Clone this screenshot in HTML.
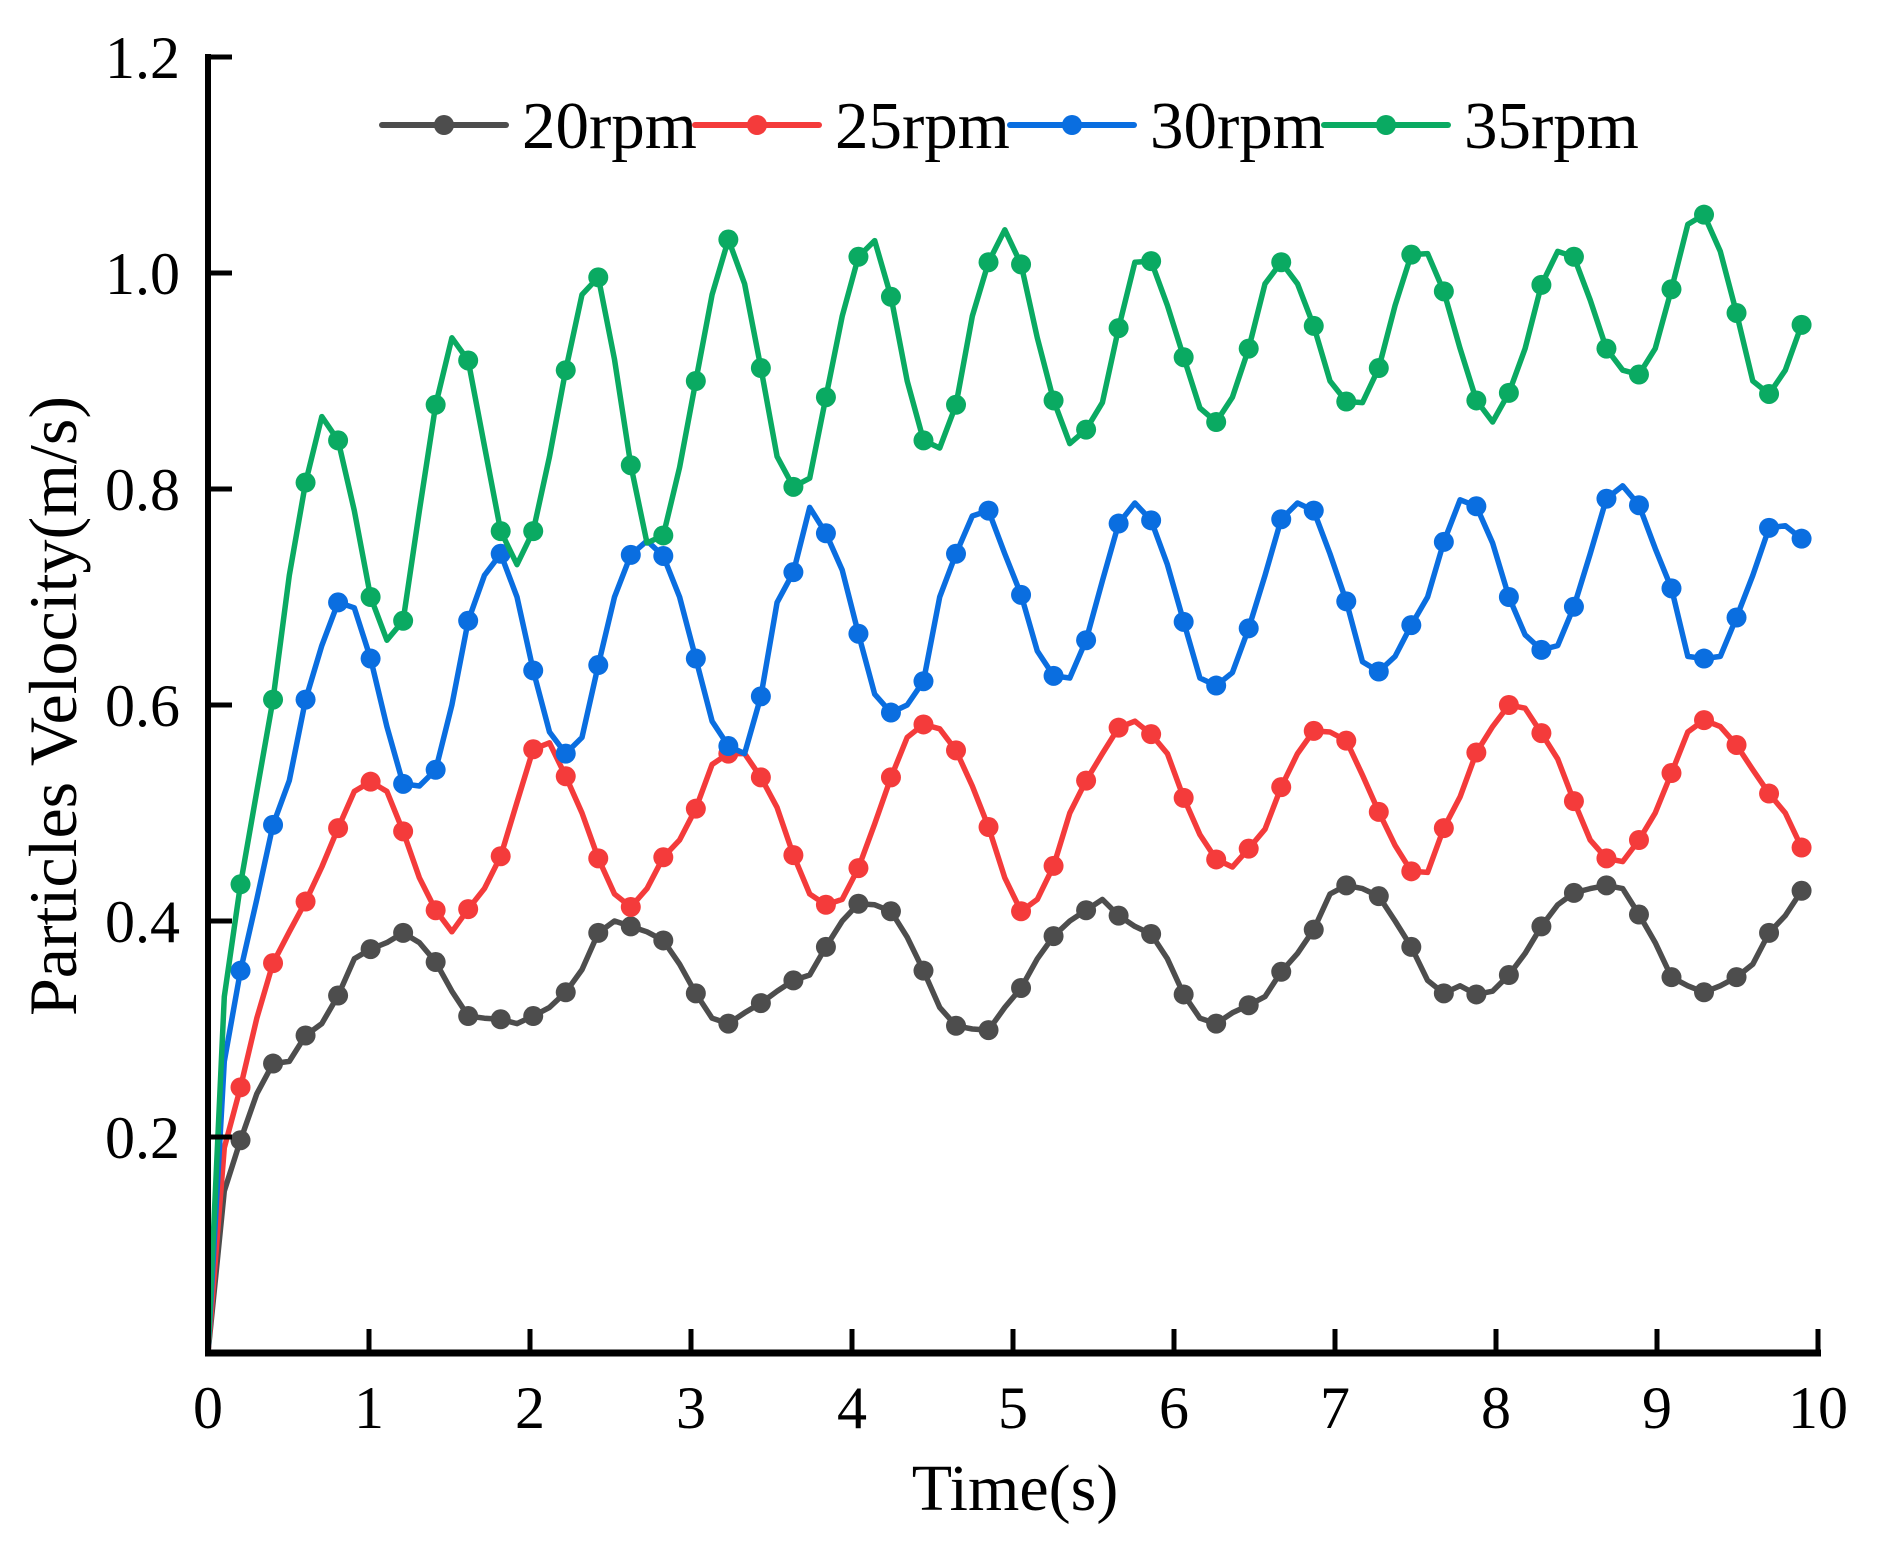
<!DOCTYPE html>
<html><head><meta charset="utf-8">
<style>
html,body{margin:0;padding:0;background:#fff;}
svg{display:block;font-family:"Liberation Serif",serif;}
</style></head>
<body>
<svg id="chart" width="1877" height="1550" viewBox="0 0 1877 1550" xmlns="http://www.w3.org/2000/svg">
<g id="plot"></g>
<g id="axes"></g>
<g id="legend"></g>
</svg>
<script>
const xTicks = [0,1,2,3,4,5,6,7,8,9,10];
const yTicks = [0.2,0.4,0.6,0.8,1.0,1.2];
const yTickLabels = ["0.2","0.4","0.6","0.8","1.0","1.2"];
const seriesNames = ["20rpm","25rpm","30rpm","35rpm"];
const dt = 0.101;
const rpm20 = [0,0.15,0.197,0.24,0.268,0.27,0.294,0.305,0.331,0.365,0.374,0.38,0.389,0.38,0.362,0.335,0.312,0.31,0.309,0.305,0.312,0.32,0.334,0.355,0.389,0.40,0.395,0.39,0.382,0.36,0.333,0.31,0.305,0.315,0.324,0.335,0.345,0.35,0.376,0.40,0.416,0.415,0.409,0.385,0.354,0.32,0.303,0.30,0.299,0.32,0.338,0.365,0.386,0.40,0.410,0.42,0.405,0.395,0.388,0.365,0.332,0.31,0.305,0.315,0.322,0.33,0.353,0.37,0.392,0.425,0.433,0.43,0.423,0.40,0.376,0.345,0.333,0.34,0.332,0.335,0.350,0.37,0.395,0.415,0.426,0.43,0.433,0.43,0.406,0.38,0.348,0.34,0.334,0.34,0.348,0.36,0.389,0.405,0.428];
const rpm25 = [0,0.19,0.246,0.31,0.361,0.39,0.418,0.45,0.486,0.52,0.529,0.52,0.483,0.44,0.410,0.39,0.411,0.43,0.460,0.51,0.559,0.565,0.534,0.50,0.458,0.425,0.413,0.43,0.459,0.475,0.504,0.545,0.555,0.555,0.533,0.505,0.461,0.425,0.415,0.42,0.449,0.49,0.533,0.57,0.582,0.578,0.558,0.525,0.487,0.44,0.409,0.42,0.451,0.50,0.530,0.555,0.579,0.585,0.573,0.555,0.514,0.48,0.457,0.45,0.467,0.485,0.524,0.555,0.576,0.575,0.567,0.535,0.501,0.47,0.446,0.445,0.486,0.515,0.556,0.58,0.600,0.597,0.574,0.55,0.511,0.475,0.458,0.455,0.475,0.50,0.537,0.575,0.586,0.58,0.563,0.54,0.518,0.50,0.468];
const rpm30 = [0,0.27,0.354,0.42,0.489,0.53,0.605,0.655,0.695,0.69,0.643,0.58,0.527,0.525,0.540,0.60,0.678,0.72,0.740,0.70,0.632,0.575,0.555,0.57,0.637,0.70,0.739,0.752,0.738,0.70,0.643,0.585,0.562,0.555,0.608,0.695,0.723,0.783,0.759,0.725,0.666,0.61,0.593,0.60,0.622,0.70,0.740,0.775,0.780,0.74,0.702,0.65,0.627,0.625,0.660,0.715,0.768,0.787,0.771,0.73,0.677,0.625,0.618,0.63,0.671,0.72,0.772,0.787,0.780,0.74,0.696,0.64,0.631,0.645,0.674,0.70,0.751,0.79,0.784,0.75,0.700,0.665,0.651,0.655,0.691,0.74,0.791,0.803,0.785,0.745,0.708,0.645,0.643,0.645,0.681,0.72,0.764,0.766,0.754];
const rpm35 = [0,0.33,0.434,0.52,0.605,0.72,0.806,0.867,0.845,0.78,0.700,0.66,0.678,0.78,0.878,0.94,0.919,0.84,0.761,0.73,0.761,0.83,0.910,0.98,0.996,0.92,0.822,0.75,0.757,0.82,0.900,0.98,1.031,0.99,0.912,0.83,0.802,0.81,0.885,0.96,1.015,1.03,0.978,0.90,0.845,0.838,0.878,0.96,1.010,1.04,1.008,0.94,0.882,0.842,0.855,0.88,0.949,1.01,1.011,0.97,0.922,0.875,0.862,0.885,0.930,0.99,1.010,0.99,0.951,0.90,0.881,0.88,0.912,0.97,1.017,1.018,0.983,0.93,0.882,0.862,0.889,0.93,0.989,1.02,1.015,0.975,0.930,0.91,0.906,0.93,0.985,1.045,1.054,1.02,0.963,0.90,0.888,0.91,0.952];
const seriesData = [rpm20, rpm25, rpm30, rpm35];
const colors = ["#4d4d4d","#f43b3b","#0a6ee0","#0aaa62"];

const NS = "http://www.w3.org/2000/svg";
const X0 = 208, X1 = 1818, Y0 = 1353, YPER = 1080;
function xs(t){ return X0 + (X1 - X0) * t / 10; }
function ys(v){ return Y0 - v * YPER; }
function mk(tag, attrs, parent){
  const e = document.createElementNS(NS, tag);
  for (const k in attrs) e.setAttribute(k, attrs[k]);
  parent.appendChild(e); return e;
}
const plot = document.getElementById('plot');
const axes = document.getElementById('axes');
const legend = document.getElementById('legend');

seriesData.forEach((arr, si) => {
  const g = mk('g', {}, plot);
  
  
  const pts = arr.map((v, i) => xs(i * dt).toFixed(1) + ',' + ys(v).toFixed(1)).join(' ');
  const pl = mk('polyline', {points: pts, fill: 'none', stroke: colors[si], 'stroke-width': 5.5, 'stroke-linejoin': 'round'}, g);
  
  
  arr.forEach((v, i) => {
    if (i % 2 !== 0 || i === 0) return;
    const c = mk('circle', {cx: xs(i * dt), cy: ys(v), r: 10, fill: colors[si]}, g);
    
    
  });
});

// axes
const yAxis = mk('line', {x1: X0, y1: Y0 + 3, x2: X0, y2: ys(1.2) - 3, stroke: '#000', 'stroke-width': 6}, axes);


const xAxis = mk('line', {x1: X0 - 3, y1: Y0, x2: X1 + 3, y2: Y0, stroke: '#000', 'stroke-width': 7}, axes);



xTicks.forEach(t => {
  const tk = mk('line', {x1: xs(t), y1: Y0, x2: xs(t), y2: Y0 - 24, stroke: '#000', 'stroke-width': 5}, axes);
  
  
  const tx = mk('text', {x: xs(t), y: 1428, 'font-size': 60, 'text-anchor': 'middle', fill: '#000'}, axes);
  tx.textContent = String(t);
  
  
});
yTicks.forEach((v, i) => {
  const tk = mk('line', {x1: X0, y1: ys(v), x2: X0 + 24, y2: ys(v), stroke: '#000', 'stroke-width': 5}, axes);
  
  
  const tx = mk('text', {x: 180, y: ys(v) + 21, 'font-size': 60, 'text-anchor': 'end', fill: '#000'}, axes);
  tx.textContent = yTickLabels[i];
  
  
});
const xt = mk('text', {x: 1015, y: 1510, 'font-size': 66, 'text-anchor': 'middle', fill: '#000'}, axes);
xt.textContent = 'Time(s)';


const yt = mk('text', {x: 0, y: 0, 'font-size': 68, 'text-anchor': 'middle', fill: '#000', transform: 'translate(76,706) rotate(-90)'}, axes);
yt.textContent = 'Particles Velocity(m/s)';



// legend
const legX = [382, 695, 1010, 1324];
seriesNames.forEach((n, i) => {
  const g = mk('g', {}, legend);
  
  
  const ly = 125;
  mk('line', {x1: legX[i], y1: ly, x2: legX[i] + 124, y2: ly, stroke: colors[i], 'stroke-width': 6, 'stroke-linecap': 'round'}, g);
  mk('circle', {cx: legX[i] + 62, cy: ly, r: 10, fill: colors[i]}, g);
  const tx = mk('text', {x: legX[i] + 140, y: ly + 23, 'font-size': 67, fill: '#000'}, g);
  tx.textContent = n;
});
</script>
</body></html>
